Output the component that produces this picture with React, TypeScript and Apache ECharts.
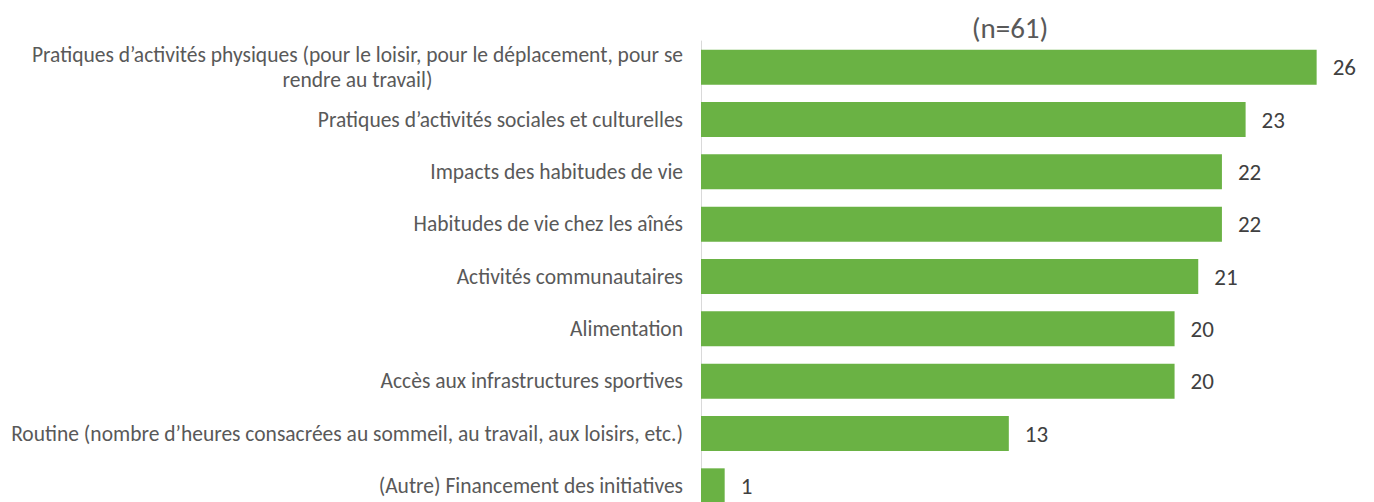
import React, { useEffect, useRef } from "react";
import * as echarts from "echarts";

const categories: string[] = [
  "Pratiques d’activités physiques (pour le loisir, pour le déplacement, pour se\nrendre au travail)",
  "Pratiques d’activités sociales et culturelles",
  "Impacts des habitudes de vie",
  "Habitudes de vie chez les aînés",
  "Activités communautaires",
  "Alimentation",
  "Accès aux infrastructures sportives",
  "Routine (nombre d’heures consacrées au sommeil, au travail, aux loisirs, etc.)",
  "(Autre) Financement des initiatives",
];
const values: number[] = [26, 23, 22, 22, 21, 20, 20, 13, 1];
const titleText = "(n=61)";

const FONT = "Carlito, 'Liberation Sans', sans-serif";

export default function App() {
  const ref = useRef<HTMLDivElement>(null);
  useEffect(() => {
    if (!ref.current) return;
    const chart = echarts.init(ref.current, undefined, { renderer: "svg" });
    chart.setOption({
      animation: false,
      backgroundColor: "#ffffff",
      title: {
        text: titleText,
        left: 1010,
        top: 13,
        textAlign: "center",
        padding: 0,
        textStyle: { fontFamily: FONT, fontSize: 29, fontWeight: "normal", color: "#595959" },
      },
      grid: { left: 701, top: 41, width: 663, height: 471, containLabel: false },
      xAxis: {
        type: "value",
        min: 0,
        max: 28,
        show: false,
      },
      yAxis: {
        type: "category",
        data: categories,
        inverse: true,
        axisLine: { show: true, lineStyle: { color: "#d9d9d9", width: 1 } },
        axisTick: { show: false },
        axisLabel: {
          margin: 18,
          fontFamily: FONT,
          fontSize: 21.5,
          color: "#595959",
          align: "right",
          formatter: (v: string) =>
            v
              .split("\n")
              .map((l) => "{c|" + l + "}")
              .join("\n"),
          rich: {
            c: { align: "center", fontFamily: FONT, fontSize: 21.5, color: "#595959", lineHeight: 25 },
          },
        },
      },
      series: [
        {
          type: "bar",
          data: values,
          barWidth: 35,
          itemStyle: { color: "#6AB244" },
          label: {
            show: true,
            position: "right",
            distance: 16,
            fontFamily: FONT,
            fontSize: 23,
            color: "#404040",
          },
        },
      ],
    });
    return () => chart.dispose();
  }, []);
  return (
    <div style={{ position: "absolute", left: 0, top: 0, width: 1374, height: 502, overflow: "hidden", background: "#fff" }}>
      <div ref={ref} style={{ width: 1374, height: 514 }} />
    </div>
  );
}
